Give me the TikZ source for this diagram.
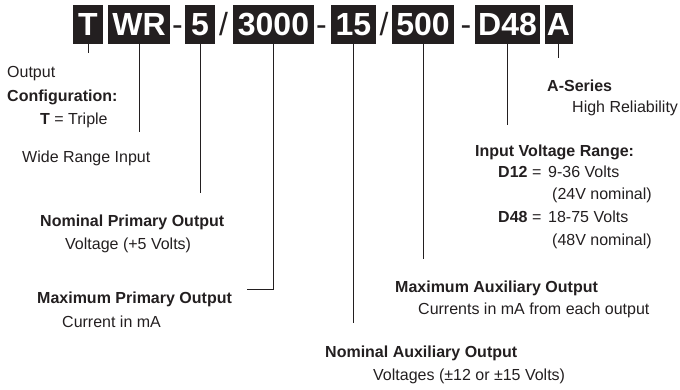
\documentclass[tikz,border=0pt]{standalone}
\usepackage{fontspec}
\setmainfont{Liberation Sans}
\definecolor{ink}{HTML}{231F20}
\begin{document}
\begin{tikzpicture}[x=1pt, y=-1pt,
    codebox/.style={fill=ink, text=white, font=\fontsize{32}{32}\selectfont\bfseries,
      text height=23pt, text depth=0pt, inner ysep=8pt, inner xsep=0pt},
    sep/.style={anchor=base, text=ink, font=\fontsize{32}{32}\selectfont, inner sep=0pt},
    lbl/.style={anchor=base west, text=ink, font=\fontsize{16}{19}\selectfont, inner sep=0pt},
    lead/.style={draw=ink, line width=1pt}]
    \useasboundingbox (0,0) rectangle (680,390);
    % part number
    \node[codebox, minimum width=30pt] (T) at (88,24.5) {T};
    \node[codebox, minimum width=62pt] (WR) at (139,24.5) {WR};
    \node[sep] (d1) at (177.5,36) {-};
    \node[codebox, minimum width=30pt] (V5) at (200,24.5) {5};
    \node[sep] (s1) at (223.5,36) {/};
    \node[codebox, minimum width=81pt] (I3000) at (273.5,24.5) {3000};
    \node[sep] (d2) at (321.5,36) {-};
    \node[codebox, minimum width=45pt] (V15) at (353.5,24.5) {15};
    \node[sep] (s2) at (384,36) {/};
    \node[codebox, minimum width=62pt] (I500) at (423,24.5) {500};
    \node[sep] (d3) at (466,36) {-};
    \node[codebox, minimum width=65pt] (D48) at (507.5,24.5) {D48};
    \node[codebox, minimum width=28pt] (A) at (558.5,24.5) {A};
    % labels
    \node[lbl] (outp) at (7,78) {Output};
    \node[lbl] (conf) at (7,102) {\bfseries Configuration:};
    \node[lbl] (trip) at (40,125) {\textbf{T} = Triple};
    \node[lbl] (wide) at (22,163) {Wide Range Input};
    \node[lbl] (npo) at (40,226) {\bfseries Nominal Primary Output};
    \node[lbl] (npov) at (65,250) {Voltage (+5 Volts)};
    \node[lbl] (mpo) at (37,303) {\bfseries Maximum Primary Output};
    \node[lbl] (mpoc) at (62,327) {Current in mA};
    \node[lbl] (nao) at (325,357) {\bfseries Nominal Auxiliary Output};
    \node[lbl] (naov) at (373,380) {Voltages (±12 or ±15 Volts)};
    \node[lbl] (mao) at (395,292) {\bfseries Maximum Auxiliary Output};
    \node[lbl] (maoc) at (418,314) {Currents in mA from each output};
    \node[lbl] (aser) at (547,92) {\bfseries A-Series};
    \node[lbl] (arel) at (572,113) {High Reliability};
    \node[lbl] (ivr) at (475,157) {\bfseries Input Voltage Range:};
    \node[lbl] (d12) at (498,178) {\textbf{D12} =};
    \node[lbl] (d12v) at (548,178) {9-36 Volts};
    \node[lbl] (d12n) at (552,200) {(24V nominal)};
    \node[lbl] (d48) at (498,223) {\textbf{D48} =};
    \node[lbl] (d48v) at (548,223) {18-75 Volts};
    \node[lbl] (d48n) at (552,245) {(48V nominal)};
    % leaders
    \coordinate (Tend) at (88,53);
    \coordinate (WRend) at (139,132);
    \coordinate (V5end) at (200,193);
    \coordinate (I3000end) at (247,289);
    \coordinate (V15end) at (353.5,323);
    \coordinate (I500end) at (423,259);
    \coordinate (D48end) at (507.5,125);
    \coordinate (Aend) at (558.5,58);
    \draw[lead] (T.south) -- (Tend);
    \draw[lead] (WR.south) -- (WRend);
    \draw[lead] (V5.south) -- (V5end);
    \draw[lead] (I3000.south) |- (I3000end);
    \draw[lead] (V15.south) -- (V15end);
    \draw[lead] (I500.south) -- (I500end);
    \draw[lead] (D48.south) -- (D48end);
    \draw[lead] (A.south) -- (Aend);
\end{tikzpicture}
\end{document}
